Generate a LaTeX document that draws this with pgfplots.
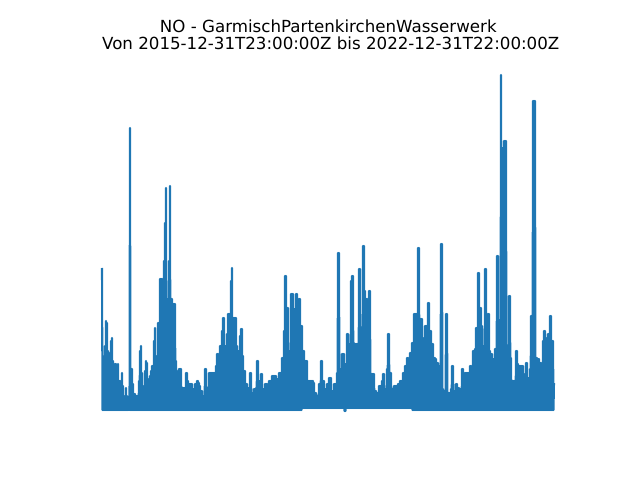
\documentclass[border=0pt]{standalone}
\usepackage{fontspec}
\setmainfont{DejaVu Sans}
\usepackage{pgfplots}
\pgfplotsset{compat=1.18}
\definecolor{mplblue}{RGB}{31,119,180}
\begin{document}
\begin{tikzpicture}
\begin{axis}[
  scale only axis,
  width=357.12pt, height=265.68pt,
  xmin=80, xmax=576, ymin=-16, ymax=353,
  axis lines=none, ticks=none,
  clip=false,
]
% invisible frame = whole figure (640x480 px)
\path (axis cs:0,-69) rectangle (axis cs:640,411);
\node[anchor=base, font=\fontsize{12}{14}\selectfont] at (axis cs:328.3,378.7) {NO - GarmischPartenkirchenWasserwerk};
\node[anchor=base, font=\fontsize{12}{14}\selectfont] at (axis cs:330.8,361.7) {Von 2015-12-31T23:00:00Z bis 2022-12-31T22:00:00Z};
\addplot[mplblue, line width=1.5pt, line join=round, mark=none] coordinates {
(102,143)(102.5,1)(103,55)(103.5,1)(104,45)(104.5,1)(105,65)(105.5,1)(106,90)(106.5,1)
(107,88)(107.5,1)(108,60)(108.5,1)(109,58)(109.5,1)(110,50)(110.5,1)(111,70)(111.5,1)
(112,73)(112.5,1)(113,50)(113.5,1)(114,35)(114.5,1)(115,47)(115.5,1)(116,47)(116.5,1)
(117,25)(117.5,1)(118,47)(118.5,1)(119,30)(119.5,1)(120,30)(120.5,1)(121,20)(121.5,1)
(122,38)(122.5,1)(123,25)(123.5,1)(124,13)(124.5,1)(125,15)(125.5,1)(126,23)(126.5,1)
(127,15)(127.5,1)(128,8)(128.5,1)(129,2)(129.5,1)(130,283)(130.5,1)(131,42)(131.5,1)
(132,42)(132.5,1)(133,27)(133.5,1)(134,17)(134.5,1)(135,17)(135.5,1)(136,15)(136.5,1)
(137,15)(137.5,1)(138,15)(138.5,1)(139,30)(139.5,1)(140,60)(140.5,1)(141,65)(141.5,1)
(142,38)(142.5,1)(143,25)(143.5,1)(144,23)(144.5,1)(145,40)(145.5,1)(146,50)(146.5,1)
(147,48)(147.5,1)(148,30)(148.5,1)(149,32)(149.5,1)(150,35)(150.5,1)(151,40)(151.5,1)
(152,45)(152.5,1)(153,45)(153.5,1)(154,70)(154.5,1)(155,83)(155.5,1)(156,53)(156.5,1)
(157,55)(157.5,1)(158,88)(158.5,1)(159,88)(159.5,1)(160,132)(160.5,1)(161,132)(161.5,1)
(162,132)(162.5,1)(163,110)(163.5,1)(164,150)(164.5,1)(165,188)(165.5,1)(166,223)(166.5,1)
(167,112)(167.5,1)(168,112)(168.5,1)(169,150)(169.5,1)(170,225)(170.5,1)(171,112)(171.5,1)
(172,112)(172.5,1)(173,107)(173.5,1)(174,107)(174.5,1)(175,107)(175.5,1)(176,50)(176.5,1)
(177,40)(177.5,1)(178,27)(178.5,1)(179,42)(179.5,1)(180,42)(180.5,1)(181,42)(181.5,1)
(182,23)(182.5,1)(183,23)(183.5,1)(184,23)(184.5,1)(185,23)(185.5,1)(186,38)(186.5,1)
(187,38)(187.5,1)(188,30)(188.5,1)(189,27)(189.5,1)(190,27)(190.5,1)(191,27)(191.5,1)
(192,27)(192.5,1)(193,22)(193.5,1)(194,22)(194.5,1)(195,27)(195.5,1)(196,27)(196.5,1)
(197,30)(197.5,1)(198,30)(198.5,1)(199,28)(199.5,1)(200,25)(200.5,1)(201,20)(201.5,1)
(202,20)(202.5,1)(203,15)(203.5,1)(204,15)(204.5,1)(205,42)(205.5,1)(206,42)(206.5,1)
(207,23)(207.5,1)(208,23)(208.5,1)(209,38)(209.5,1)(210,38)(210.5,1)(211,38)(211.5,1)
(212,38)(212.5,1)(213,38)(213.5,1)(214,38)(214.5,1)(215,38)(215.5,1)(216,45)(216.5,1)
(217,57)(217.5,1)(218,57)(218.5,1)(219,45)(219.5,1)(220,65)(220.5,1)(221,65)(221.5,1)
(222,80)(222.5,1)(223,93)(223.5,1)(224,93)(224.5,1)(225,65)(225.5,1)(226,65)(226.5,1)
(227,77)(227.5,1)(228,97)(228.5,1)(229,97)(229.5,1)(230,97)(230.5,1)(231,130)(231.5,1)
(232,143)(232.5,1)(233,93)(233.5,1)(234,93)(234.5,1)(235,93)(235.5,1)(236,93)(236.5,1)
(237,65)(237.5,1)(238,60)(238.5,1)(239,60)(239.5,1)(240,75)(240.5,1)(241,82)(241.5,1)
(242,82)(242.5,1)(243,55)(243.5,1)(244,40)(244.5,1)(245,40)(245.5,1)(246,27)(246.5,1)
(247,27)(247.5,1)(248,23)(248.5,1)(249,23)(249.5,1)(250,38)(250.5,1)(251,38)(251.5,1)
(252,18)(252.5,1)(253,18)(253.5,1)(254,22)(254.5,1)(255,22)(255.5,1)(256,23)(256.5,1)
(257,50)(257.5,1)(258,50)(258.5,1)(259,30)(259.5,1)(260,30)(260.5,1)(261,37)(261.5,1)
(262,37)(262.5,1)(263,22)(263.5,1)(264,22)(264.5,1)(265,27)(265.5,1)(266,27)(266.5,1)
(267,27)(267.5,1)(268,22)(268.5,1)(269,30)(269.5,1)(270,30)(270.5,1)(271,30)(271.5,1)
(272,35)(272.5,1)(273,35)(273.5,1)(274,35)(274.5,1)(275,35)(275.5,1)(276,35)(276.5,1)
(277,32)(277.5,1)(278,32)(278.5,1)(279,38)(279.5,1)(280,38)(280.5,1)(281,38)(281.5,1)
(282,53)(282.5,1)(283,53)(283.5,1)(284,80)(284.5,1)(285,135)(285.5,1)(286,135)(286.5,1)
(287,103)(287.5,1)(288,103)(288.5,1)(289,60)(289.5,1)(290,60)(290.5,1)(291,117)(291.5,1)
(292,117)(292.5,1)(293,117)(293.5,1)(294,102)(294.5,1)(295,102)(295.5,1)(296,117)(296.5,1)
(297,117)(297.5,1)(298,103)(298.5,1)(299,112)(299.5,1)(300,112)(300.5,1)(301,85)(301.5,1)
(302,85)(302.5,3)(303,60)(303.5,3)(304,60)(304.5,3)(305,50)(305.5,3)(306,50)(306.5,3)
(307,50)(307.5,3)(308,30)(308.5,3)(309,30)(309.5,3)(310,30)(310.5,3)(311,30)(311.5,3)
(312,30)(312.5,3)(313,30)(313.5,3)(314,28)(314.5,3)(315,18)(315.5,3)(316,18)(316.5,3)
(317,15)(317.5,3)(318,15)(318.5,3)(319,27)(319.5,3)(320,27)(320.5,3)(321,50)(321.5,3)
(322,50)(322.5,3)(323,30)(323.5,3)(324,30)(324.5,3)(325,22)(325.5,3)(326,22)(326.5,3)
(327,27)(327.5,3)(328,27)(328.5,3)(329,33)(329.5,3)(330,33)(330.5,3)(331,33)(331.5,3)
(332,20)(332.5,3)(333,20)(333.5,3)(334,27)(334.5,3)(335,27)(335.5,3)(336,27)(336.5,3)
(337,38)(337.5,3)(338,158)(338.5,3)(339,158)(339.5,3)(340,42)(340.5,3)(341,42)(341.5,3)
(342,57)(342.5,3)(343,57)(343.5,3)(344,57)(344.5,0)(345,47)(345.5,0)(346,47)(346.5,3)
(347,77)(347.5,3)(348,77)(348.5,3)(349,67)(349.5,3)(350,67)(350.5,3)(351,130)(351.5,3)
(352,135)(352.5,3)(353,135)(353.5,3)(354,68)(354.5,3)(355,67)(355.5,3)(356,67)(356.5,3)
(357,67)(357.5,3)(358,67)(358.5,3)(359,142)(359.5,3)(360,142)(360.5,3)(361,80)(361.5,3)
(362,80)(362.5,3)(363,165)(363.5,3)(364,165)(364.5,3)(365,120)(365.5,3)(366,112)(366.5,3)
(367,112)(367.5,3)(368,73)(368.5,3)(369,120)(369.5,3)(370,120)(370.5,3)(371,37)(371.5,3)
(372,37)(372.5,3)(373,37)(373.5,3)(374,37)(374.5,3)(375,20)(375.5,3)(376,20)(376.5,3)
(377,18)(377.5,3)(378,18)(378.5,3)(379,25)(379.5,3)(380,25)(380.5,3)(381,25)(381.5,3)
(382,30)(382.5,3)(383,37)(383.5,3)(384,37)(384.5,3)(385,18)(385.5,3)(386,18)(386.5,3)
(387,42)(387.5,3)(388,77)(388.5,3)(389,77)(389.5,3)(390,38)(390.5,3)(391,38)(391.5,3)
(392,22)(392.5,3)(393,22)(393.5,3)(394,25)(394.5,3)(395,25)(395.5,3)(396,25)(396.5,3)
(397,25)(397.5,3)(398,27)(398.5,3)(399,27)(399.5,3)(400,30)(400.5,3)(401,30)(401.5,3)
(402,30)(402.5,3)(403,38)(403.5,3)(404,38)(404.5,3)(405,45)(405.5,3)(406,45)(406.5,3)
(407,53)(407.5,3)(408,53)(408.5,3)(409,50)(409.5,3)(410,58)(410.5,3)(411,58)(411.5,3)
(412,68)(412.5,1)(413,68)(413.5,1)(414,97)(414.5,1)(415,97)(415.5,1)(416,97)(416.5,1)
(417,97)(417.5,1)(418,163)(418.5,1)(419,163)(419.5,1)(420,65)(420.5,1)(421,92)(421.5,1)
(422,92)(422.5,1)(423,73)(423.5,1)(424,65)(424.5,1)(425,85)(425.5,1)(426,85)(426.5,1)
(427,85)(427.5,1)(428,108)(428.5,1)(429,108)(429.5,1)(430,80)(430.5,1)(431,80)(431.5,1)
(432,67)(432.5,1)(433,67)(433.5,1)(434,53)(434.5,1)(435,53)(435.5,1)(436,52)(436.5,1)
(437,48)(437.5,1)(438,48)(438.5,1)(439,45)(439.5,1)(440,45)(440.5,1)(441,167)(441.5,1)
(442,167)(442.5,1)(443,22)(443.5,1)(444,20)(444.5,1)(445,20)(445.5,1)(446,97)(446.5,1)
(447,97)(447.5,1)(448,18)(448.5,1)(449,18)(449.5,1)(450,18)(450.5,1)(451,22)(451.5,1)
(452,45)(452.5,1)(453,45)(453.5,1)(454,20)(454.5,1)(455,20)(455.5,1)(456,27)(456.5,1)
(457,27)(457.5,1)(458,23)(458.5,1)(459,23)(459.5,1)(460,22)(460.5,1)(461,22)(461.5,1)
(462,42)(462.5,1)(463,42)(463.5,1)(464,27)(464.5,1)(465,38)(465.5,1)(466,38)(466.5,1)
(467,38)(467.5,1)(468,38)(468.5,1)(469,38)(469.5,1)(470,45)(470.5,1)(471,45)(471.5,1)
(472,35)(472.5,1)(473,60)(473.5,1)(474,60)(474.5,1)(475,62)(475.5,1)(476,83)(476.5,1)
(477,83)(477.5,1)(478,138)(478.5,1)(479,138)(479.5,1)(480,103)(480.5,1)(481,103)(481.5,1)
(482,85)(482.5,1)(483,65)(483.5,1)(484,47)(484.5,1)(485,142)(485.5,1)(486,142)(486.5,1)
(487,77)(487.5,1)(488,97)(488.5,1)(489,97)(489.5,1)(490,60)(490.5,1)(491,57)(491.5,1)
(492,57)(492.5,1)(493,52)(493.5,1)(494,52)(494.5,1)(495,62)(495.5,1)(496,62)(496.5,1)
(497,155)(497.5,1)(498,155)(498.5,1)(499,37)(499.5,1)(500,43)(500.5,1)(501,336)(501.5,1)
(502,263)(502.5,1)(503,263)(503.5,1)(504,270)(504.5,1)(505,270)(505.5,1)(506,270)(506.5,1)
(507,27)(507.5,1)(508,38)(508.5,1)(509,115)(509.5,1)(510,115)(510.5,1)(511,53)(511.5,1)
(512,30)(512.5,1)(513,30)(513.5,1)(514,30)(514.5,1)(515,30)(515.5,1)(516,60)(516.5,1)
(517,60)(517.5,1)(518,47)(518.5,1)(519,45)(519.5,1)(520,45)(520.5,1)(521,45)(521.5,1)
(522,45)(522.5,1)(523,45)(523.5,1)(524,20)(524.5,1)(525,37)(525.5,1)(526,48)(526.5,1)
(527,48)(527.5,1)(528,33)(528.5,1)(529,33)(529.5,1)(530,42)(530.5,1)(531,95)(531.5,1)
(532,95)(532.5,1)(533,310)(533.5,1)(534,310)(534.5,1)(535,310)(535.5,1)(536,53)(536.5,1)
(537,53)(537.5,1)(538,52)(538.5,1)(539,52)(539.5,1)(540,48)(540.5,1)(541,48)(541.5,1)
(542,45)(542.5,1)(543,70)(543.5,1)(544,80)(544.5,1)(545,80)(545.5,1)(546,57)(546.5,1)
(547,73)(547.5,1)(548,77)(548.5,1)(549,77)(549.5,1)(550,95)(550.5,1)(551,95)(551.5,1)
(552,70)(552.5,1)(553,70)(553.5,1)(554,28)
};
\end{axis}
\end{tikzpicture}
\end{document}
